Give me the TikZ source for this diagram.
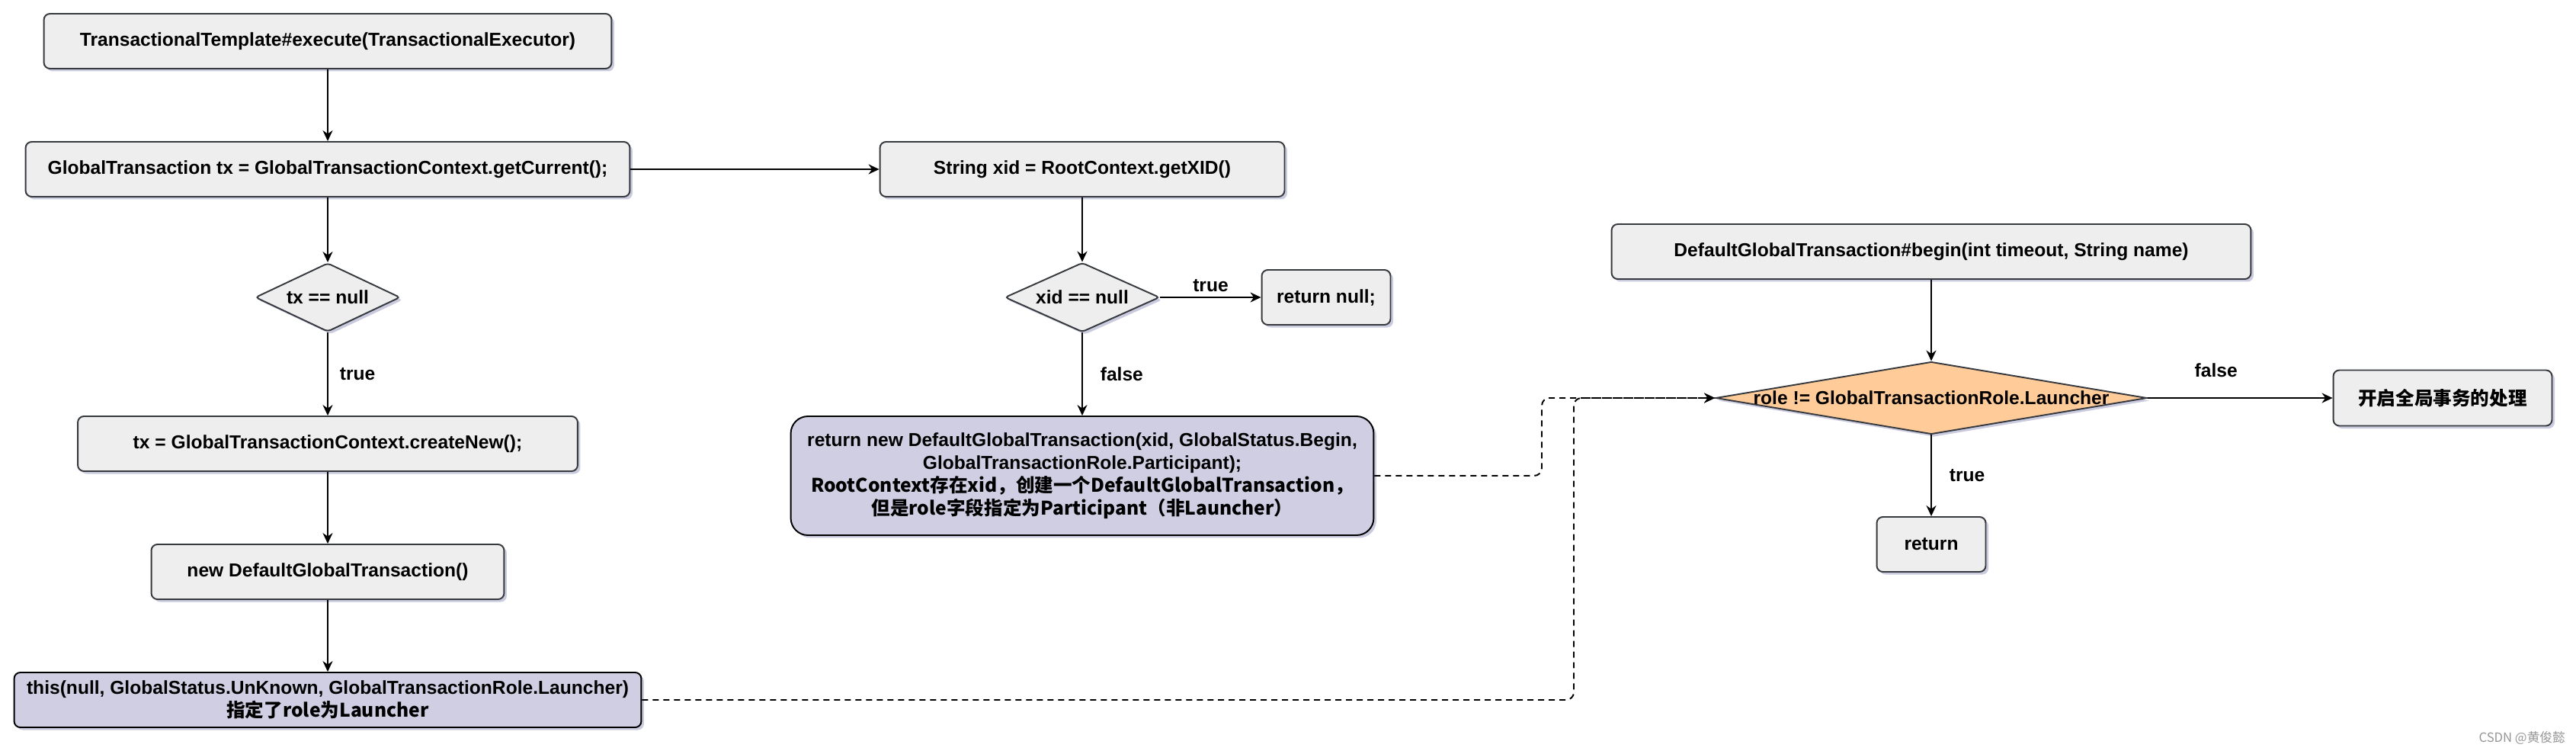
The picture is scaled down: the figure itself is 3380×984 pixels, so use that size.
\documentclass[tikz,border=0pt]{standalone}
\usepackage{fontspec}
\setmainfont{Liberation Sans}
\newfontfamily\cjk{Noto Sans CJK SC}
\usetikzlibrary{shapes.geometric,arrows.meta,shadows}

\begin{document}
\begin{tikzpicture}[
    x=0.02cm, y=-0.02cm,
    every node/.style={font=\fontsize{14}{17}\selectfont\bfseries},
    softshadow/.style={drop shadow={shadow xshift=0.07cm, shadow yshift=-0.07cm, fill=shadowblue, opacity=0.45}},
    stepbox/.style={draw=edgegray, fill=boxgray, line width=1.1pt, rounded corners=0.16cm, minimum height=1.44cm, align=center, softshadow},
    notebox/.style={stepbox, draw=black, fill=lavender},
    decision/.style={diamond, draw=edgegray, fill=boxgray, line width=1.1pt, rounded corners=0.08cm, inner sep=0pt, aspect=2, softshadow},
    flow/.style={line width=1.1pt, -{Stealth[length=0.28cm, width=0.26cm]}},
    jump/.style={flow, dash pattern=on 0.16cm off 0.12cm, rounded corners=0.2cm}
]

% Define colors
\definecolor{boxgray}{RGB}{238,238,238}
\definecolor{edgegray}{RGB}{54,57,61}
\definecolor{lavender}{RGB}{208,206,226}
\definecolor{peach}{RGB}{255,204,153}
\definecolor{shadowblue}{RGB}{140,140,185}
\definecolor{marktext}{RGB}{150,150,150}

\useasboundingbox (0,0) rectangle (3380,984);

% Left column: TransactionalTemplate
\node[stepbox, minimum width=14.9cm] (exec) at (430,54) {TransactionalTemplate\#execute(TransactionalExecutor)};
\node[stepbox, minimum width=15.86cm] (getCur) at (430,222) {GlobalTransaction tx = GlobalTransactionContext.getCurrent();};
\node[decision, minimum width=3.8cm, minimum height=1.8cm] (txNull) at (430,390) {tx == null};
\node[stepbox, minimum width=13.12cm] (createNew) at (430,582) {tx = GlobalTransactionContext.createNew();};
\node[stepbox, minimum width=9.26cm] (newDGT) at (430,750) {new DefaultGlobalTransaction()};
\node[notebox, minimum width=16.46cm] (thisL) at (430,918) {this(null, GlobalStatus.UnKnown, GlobalTransactionRole.Launcher)\\ {\cjk\bfseries 指定了role为Launcher}};

% Middle column: RootContext
\node[stepbox, minimum width=10.62cm] (getXID) at (1420,222) {String xid = RootContext.getXID()};
\node[decision, minimum width=4.06cm, minimum height=1.82cm] (xidNull) at (1420,390) {xid == null};
\node[stepbox, minimum width=3.38cm] (retNull) at (1740,390) {return null;};
\node[notebox, minimum width=15.3cm, minimum height=3.12cm, rounded corners=0.45cm] (participant) at (1420,624) {return new DefaultGlobalTransaction(xid, GlobalStatus.Begin,\\ GlobalTransactionRole.Participant);\\ {\cjk\bfseries RootContext存在xid，创建一个DefaultGlobalTransaction，}\\ {\cjk\bfseries 但是role字段指定为Participant（非Launcher）}};

% Right column: DefaultGlobalTransaction#begin
\node[stepbox, minimum width=16.78cm] (begin) at (2534,330) {DefaultGlobalTransaction\#begin(int timeout, String name)};
\node[decision, fill=peach, aspect=6, rounded corners=0pt, minimum width=11.32cm, minimum height=1.9cm] (role) at (2534,522) {\makebox[0pt]{role != GlobalTransactionRole.Launcher}};
\node[stepbox, minimum width=5.74cm, minimum height=1.46cm] (startGlobal) at (3205,522) {\cjk\bfseries 开启全局事务的处理};
\node[stepbox, minimum width=2.86cm] (ret) at (2534,714) {return};

% Solid flow
\draw[flow] (exec) -- (getCur);
\draw[flow] (getCur) -- (txNull);
\draw[flow] (txNull) -- (createNew) node[midway, right=0.18cm] (txTrue) {true};
\draw[flow] (createNew) -- (newDGT);
\draw[flow] (newDGT) -- (thisL);
\draw[flow] (getCur) -- (getXID);
\draw[flow] (getXID) -- (xidNull);
\draw[flow] (xidNull) -- (retNull) node[midway, above] (xidTrue) {true};
\draw[flow] (xidNull) -- (participant) node[midway, right=0.34cm] (xidFalse) {false};
\draw[flow] (begin) -- (role);
\draw[flow] (role) -- (startGlobal) node[pos=0.37, above=0.4cm] (roleFalse) {false};
\draw[flow] (role) -- (ret) node[midway, right=0.34cm] (roleTrue) {true};

% Dashed jumps into the role check
\coordinate (launchBend) at (2065,522);
\coordinate (partBend) at (2023,522);
\draw[jump] (thisL.east) -| (launchBend) -- (role.west);
\draw[jump] (participant.east) -| (partBend) -- (role.west);

% Watermark
\node[anchor=east, text=marktext, font=\cjk\fontsize{9.5}{11}\selectfont] (mark) at (3372,968) {CSDN @黄俊懿};

\end{tikzpicture}
\end{document}
